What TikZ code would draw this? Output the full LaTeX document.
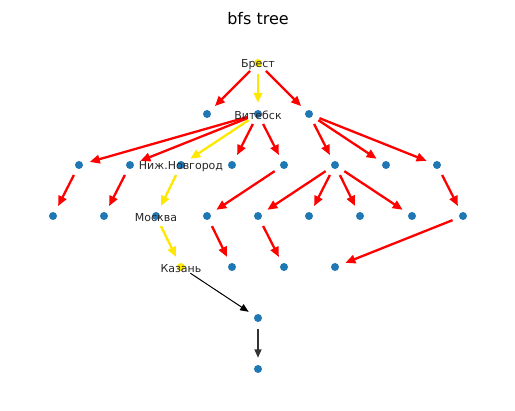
\documentclass[tikz,border=0pt]{standalone}
\usepackage{fontspec}
\setmainfont{DejaVu Sans}
\usepackage{tikz}
\usetikzlibrary{arrows.meta,positioning}
\definecolor{tabblue}{HTML}{1F77B4}
\definecolor{bfsred}{HTML}{FF0000}
\definecolor{bfsyellow}{HTML}{FFE800}
\newcommand{\lblfont}{\fontsize{11}{13}\selectfont}

\begin{document}
\begin{tikzpicture}[x=1pt, y=-1pt,
    dot/.style={circle, fill=tabblue, inner sep=0pt, minimum size=8pt},
    hot/.style={circle, fill=bfsyellow, inner sep=0pt, minimum size=8pt},
    lbl/.style={inner sep=0pt, font=\lblfont, text=black!85, yshift=-1.5pt},
    redge/.style={-{Triangle[length=10pt, width=8.5pt]}, line width=2.3pt, bfsred, shorten <=7pt, shorten >=7pt},
    yedge/.style={-{Triangle[length=10pt, width=8.5pt]}, line width=2.3pt, bfsyellow, shorten <=7pt, shorten >=7pt},
    kedge/.style={-{Triangle[length=8.5pt, width=7pt]}, line width=1pt, black, shorten <=7pt, shorten >=7pt}
]
    \useasboundingbox (0,0) rectangle (515,411);

    % Title
    \node[font=\fontsize{16}{19}\selectfont] (title) at (258,19) {bfs tree};

    % Level 0 and 1
    \node[hot] (Brest) at (258,63) {};
    \node[dot] (a1) at (207,114) {};
    \node[dot] (Vitebsk) at (258,114) {};
    \node[dot] (a3) at (309,114) {};

    % Level 2
    \node[dot] (b1) at (79,165) {};
    \node[dot] (b2) at (130,165) {};
    \node[dot] (NNovgorod) at (181,165) {};
    \node[dot] (b4) at (232,165) {};
    \node[dot] (b5) at (284,165) {};
    \node[dot] (b6) at (335,165) {};
    \node[dot] (b7) at (386,165) {};
    \node[dot] (b8) at (437,165) {};

    % Level 3
    \node[dot] (c1) at (53,216) {};
    \node[dot] (c2) at (104,216) {};
    \node[dot] (Moskva) at (156,216) {};
    \node[dot] (c4) at (207,216) {};
    \node[dot] (c5) at (258,216) {};
    \node[dot] (c6) at (309,216) {};
    \node[dot] (c7) at (360,216) {};
    \node[dot] (c8) at (412,216) {};
    \node[dot] (c9) at (463,216) {};

    % Level 4 to 6
    \node[hot] (Kazan) at (181,267) {};
    \node[dot] (d2) at (232,267) {};
    \node[dot] (d3) at (284,267) {};
    \node[dot] (d4) at (335,267) {};
    \node[dot] (e1) at (258,318) {};
    \node[dot] (f1) at (258,369) {};

    % Tree edges
    \foreach \u/\v in {Brest/a1, Brest/a3, Vitebsk/b1, Vitebsk/b2, Vitebsk/b4, Vitebsk/b5,
                       a3/b6, a3/b7, a3/b8, b1/c1, b2/c2, b5/c4, b6/c5, b6/c6, b6/c7, b6/c8,
                       b8/c9, c4/d2, c5/d3, c9/d4}
        \draw[redge] (\u) -- (\v);

    % Path to Kazan
    \foreach \u/\v in {Brest/Vitebsk, Vitebsk/NNovgorod, NNovgorod/Moskva, Moskva/Kazan}
        \draw[yedge] (\u) -- (\v);

    \draw[kedge] (Kazan) -- (e1);
    \draw[kedge, line width=1.6pt, black!80] (e1) -- (f1);

    % Labels
    \node[lbl] (lBrest) at (Brest) {Брест};
    \node[lbl] (lVitebsk) at (Vitebsk) {Витебск};
    \node[lbl] (lNNovgorod) at (NNovgorod) {Ниж.Новгород};
    \node[lbl] (lMoskva) at (Moskva) {Москва};
    \node[lbl] (lKazan) at (Kazan) {Казань};

\end{tikzpicture}
\end{document}
